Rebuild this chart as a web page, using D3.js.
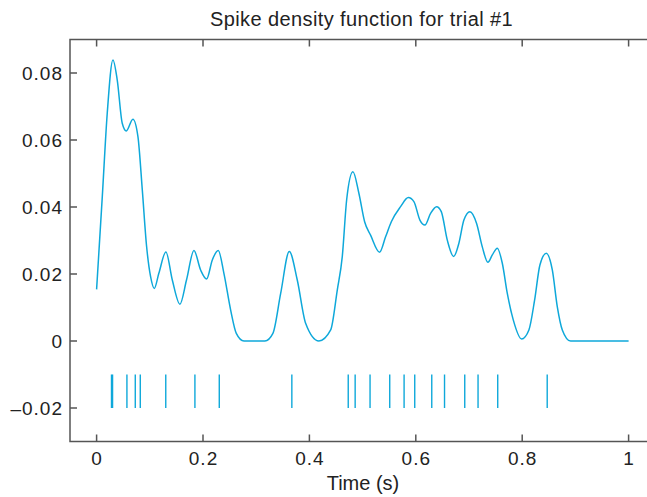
<!DOCTYPE html>
<html><head><meta charset="utf-8">
<script src="https://cdn.jsdelivr.net/npm/d3@7"></script>
<style>
html,body{margin:0;padding:0;background:#fff;}
svg{display:block;font-family:"Liberation Sans",Arial,Helvetica,sans-serif;}
</style></head>
<body>
<svg id="chart" width="647" height="497"></svg>
<script>
const titleText = "Spike density function for trial #1";
const xLabel = "Time (s)";
const densityT = [0,0.0107,0.020,0.0307,0.0388,0.0482,0.0558,0.0683,0.0777,0.0859,0.094,0.1015,0.1084,0.117,0.1303,0.1423,0.1566,0.169,0.183,0.1955,0.2068,0.2175,0.2287,0.2393,0.2519,0.2626,0.277,0.3164,0.3314,0.346,0.3622,0.3772,0.3929,0.4179,0.44,0.4524,0.4618,0.47,0.4818,0.493,0.5038,0.515,0.532,0.5432,0.554,0.5714,0.5859,0.5964,0.6077,0.6171,0.6278,0.6391,0.6479,0.6592,0.6711,0.681,0.6904,0.7017,0.7143,0.725,0.7355,0.7438,0.7532,0.7626,0.772,0.7832,0.7989,0.8126,0.8233,0.8333,0.8453,0.8566,0.866,0.8754,0.891,1.0];
const densityV = [0.0154,0.0431,0.068,0.0839,0.0779,0.065,0.0627,0.0662,0.061,0.0451,0.0282,0.0192,0.0157,0.0202,0.0266,0.0182,0.011,0.0182,0.027,0.0212,0.0185,0.0242,0.027,0.0202,0.0093,0.0023,0,0,0.0023,0.0142,0.0267,0.0182,0.0053,0,0.0033,0.0152,0.0252,0.0421,0.0505,0.0441,0.0356,0.0316,0.0265,0.0311,0.0356,0.0401,0.0428,0.0416,0.0361,0.0346,0.0381,0.0401,0.0386,0.0301,0.0252,0.0292,0.0361,0.0386,0.0351,0.0281,0.0235,0.0257,0.0277,0.0232,0.0142,0.0063,0.0006,0.0033,0.0122,0.0227,0.0262,0.0212,0.0102,0.0033,0,0];
const spikeTimes = [0.028,0.030,0.057,0.0727,0.0821,0.130,0.1848,0.2306,0.367,0.473,0.486,0.514,0.551,0.578,0.598,0.630,0.654,0.692,0.717,0.754,0.847];
const spikeRange = [-0.01,-0.02];
const xTicks = [0,0.2,0.4,0.6,0.8,1];
const xTickLabels = ["0","0.2","0.4","0.6","0.8","1"];
const yTicks = [-0.02,0,0.02,0.04,0.06,0.08];
const yTickLabels = ["\u20130.02","0","0.02","0.04","0.06","0.08"];

const svg = d3.select("#chart");
const x = d3.scaleLinear().domain([-0.05,1.05]).range([70,655.2]);
const y = d3.scaleLinear().domain([-0.03,0.09]).range([441.5,39.5]);
const lineColor = "#0ea8da";
const axisColor = "#555";
const textColor = "#222";

// frame
svg.append("rect").attr("x",x(-0.05)).attr("y",y(0.09))
  .attr("width",x(1.05)-x(-0.05)).attr("height",y(-0.03)-y(0.09))
  .attr("fill","none").attr("stroke",axisColor).attr("stroke-width",1.5);

// ticks inward
const tl = 7;
xTicks.forEach((t,i)=>{
  svg.append("line").attr("x1",x(t)).attr("x2",x(t)).attr("y1",y(-0.03)).attr("y2",y(-0.03)-tl).attr("stroke",axisColor).attr("stroke-width",1.5);
  svg.append("line").attr("x1",x(t)).attr("x2",x(t)).attr("y1",y(0.09)).attr("y2",y(0.09)+tl).attr("stroke",axisColor).attr("stroke-width",1.5);
  svg.append("text").attr("x",x(t)+0.5).attr("y",465).attr("text-anchor","middle")
    .attr("font-size",19).attr("letter-spacing","1px").attr("fill",textColor).text(xTickLabels[i]);
});
yTicks.forEach((v,i)=>{
  svg.append("line").attr("x1",x(-0.05)).attr("x2",x(-0.05)+tl).attr("y1",y(v)).attr("y2",y(v)).attr("stroke",axisColor).attr("stroke-width",1.5);
  svg.append("text").attr("x",63).attr("y",y(v)).attr("dy","0.36em").attr("text-anchor","end")
    .attr("font-size",19).attr("letter-spacing","1px").attr("fill",textColor).text(yTickLabels[i]);
});

// curve
const pts = densityT.map((t,i)=>[t,densityV[i]]);
svg.append("path").datum(pts)
  .attr("d",d3.line().x(d=>x(d[0])).y(d=>y(d[1])).curve(d3.curveMonotoneX))
  .attr("fill","none").attr("stroke",lineColor).attr("stroke-width",1.5);

// spikes
svg.selectAll(".spike").data(spikeTimes).enter().append("line")
  .attr("class","spike")
  .attr("x1",d=>x(d)).attr("x2",d=>x(d))
  .attr("y1",y(spikeRange[0])).attr("y2",y(spikeRange[1]))
  .attr("stroke",lineColor).attr("stroke-width",1.4);

// title & label
svg.append("text").attr("x",361.5).attr("y",26).attr("text-anchor","middle")
  .attr("font-size",20).attr("letter-spacing","0.4px").attr("fill",textColor).text(titleText);
svg.append("text").attr("x",363).attr("y",490).attr("text-anchor","middle")
  .attr("font-size",20).attr("fill",textColor).text(xLabel);
</script>
</body></html>
